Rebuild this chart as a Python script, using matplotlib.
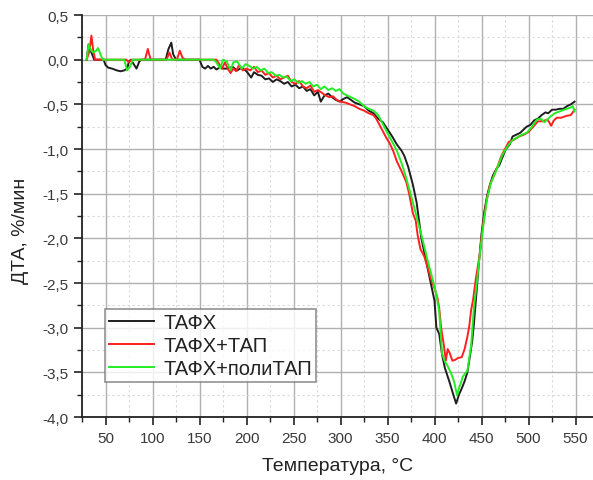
import matplotlib
matplotlib.use("Agg")
import matplotlib.pyplot as plt
from matplotlib.ticker import MultipleLocator, FuncFormatter

plt.rcParams['font.family'] = ['Liberation Sans', 'DejaVu Sans']

# ТАФХ
t_tafh = [30, 32, 35, 38, 48, 50, 53, 57, 62, 66, 70, 73, 75, 77, 80, 83, 86, 88,
          114, 117, 120, 122, 125, 150, 153, 156, 159, 162, 165, 168, 171, 175, 180,
          185, 190, 195, 200, 205, 208, 212, 216, 220, 224, 228, 232, 236, 240, 244,
          248, 252, 256, 260, 264, 268, 272, 276, 279, 283, 287, 291, 295, 299, 303,
          307, 311, 315, 320, 325, 330, 335, 340, 345, 350, 355, 360, 365, 368, 372,
          377, 381, 386, 390, 395, 400, 402, 405, 408, 411, 416, 420, 423, 426, 429,
          432, 435, 438, 440, 442, 444, 447, 450, 453, 456, 459, 462, 466, 469, 472,
          476, 480, 483, 487, 491, 495, 498, 502, 506, 510, 514, 518, 521, 525, 529,
          533, 537, 541, 545, 549]
v_tafh = [0.0, 0.17, 0.08, 0.0, 0.0, -0.06, -0.09, -0.1, -0.12, -0.13, -0.12, -0.1,
          -0.02, 0.0, -0.05, -0.1, -0.02, 0.0, 0.0, 0.12, 0.19, 0.06, 0.0, 0.0, -0.08,
          -0.1, -0.07, -0.1, -0.08, -0.11, -0.09, -0.1, -0.1, -0.08, -0.12, -0.09,
          -0.13, -0.2, -0.14, -0.17, -0.18, -0.22, -0.21, -0.25, -0.22, -0.24, -0.27,
          -0.25, -0.3, -0.28, -0.32, -0.3, -0.35, -0.33, -0.4, -0.36, -0.47, -0.4,
          -0.38, -0.42, -0.45, -0.47, -0.44, -0.42, -0.45, -0.48, -0.5, -0.52, -0.57,
          -0.6, -0.66, -0.7, -0.78, -0.86, -0.95, -1.02, -1.08, -1.2, -1.4, -1.6, -2.0,
          -2.2, -2.45, -2.7, -3.0, -3.07, -3.3, -3.45, -3.61, -3.75, -3.85, -3.75,
          -3.68, -3.6, -3.5, -3.3, -3.16, -2.95, -2.69, -2.3, -1.95, -1.7, -1.52, -1.4,
          -1.3, -1.22, -1.18, -1.1, -1.0, -0.95, -0.86, -0.84, -0.82, -0.78, -0.75,
          -0.73, -0.68, -0.66, -0.62, -0.59, -0.6, -0.56, -0.56, -0.55, -0.55, -0.52,
          -0.5, -0.47]

# ТАФХ+ТАП
t_tap = [30, 33, 35, 37, 39, 72, 75, 78, 92, 95, 98, 115, 118, 121, 126, 129, 132,
         135, 168, 171, 174, 177, 180, 183, 186, 189, 192, 196, 200, 204, 208, 212,
         216, 220, 224, 228, 232, 236, 240, 244, 248, 252, 256, 260, 264, 268, 272,
         276, 280, 284, 288, 292, 296, 300, 305, 310, 315, 320, 325, 330, 335, 338,
         341, 345, 349, 352, 356, 360, 365, 370, 373, 377, 380, 382, 385, 389, 392,
         396, 400, 403, 405, 407, 410, 412, 414, 416, 419, 422, 425, 429, 432, 435,
         437, 439, 441, 444, 448, 451, 455, 459, 463, 467, 471, 475, 479, 484, 490,
         495, 500, 505, 510, 515, 520, 522, 524, 527, 530, 535, 540, 545, 549]
v_tap = [0.0, 0.1, 0.27, 0.1, 0.0, 0.0, -0.03, 0.0, 0.0, 0.12, 0.0, 0.0, 0.08, 0.0,
         0.0, 0.1, 0.02, 0.0, 0.0, -0.05, -0.1, -0.03, -0.1, -0.15, -0.1, -0.13, -0.06,
         -0.12, -0.1, -0.12, -0.08, -0.14, -0.12, -0.17, -0.15, -0.2, -0.18, -0.22,
         -0.2, -0.18, -0.25, -0.27, -0.24, -0.3, -0.32, -0.29, -0.36, -0.34, -0.37,
         -0.4, -0.42, -0.41, -0.45, -0.47, -0.48, -0.5, -0.52, -0.55, -0.57, -0.6,
         -0.62, -0.66, -0.72, -0.8, -0.88, -0.93, -1.02, -1.14, -1.25, -1.37, -1.5,
         -1.72, -1.8, -1.96, -2.12, -2.2, -2.3, -2.45, -2.56, -2.66, -2.78, -3.0, -3.2,
         -3.37, -3.24, -3.28, -3.37, -3.36, -3.34, -3.33, -3.24, -3.1, -2.98, -2.8,
         -2.69, -2.45, -2.19, -1.9, -1.6, -1.4, -1.3, -1.2, -1.08, -1.0, -0.92, -0.9,
         -0.86, -0.84, -0.81, -0.75, -0.69, -0.69, -0.67, -0.7, -0.74, -0.68, -0.65,
         -0.65, -0.63, -0.62, -0.56]

# ТАФХ+полиТАП
t_poly = [30, 32, 35, 37, 40, 42, 45, 47, 70, 73, 76, 79, 165, 168, 172, 175, 179,
          183, 186, 190, 195, 199, 203, 207, 211, 215, 219, 223, 227, 231, 235, 239,
          243, 247, 251, 255, 259, 263, 267, 271, 275, 279, 283, 287, 291, 295, 299,
          303, 307, 311, 315, 320, 325, 330, 335, 340, 345, 350, 355, 360, 366, 370,
          375, 380, 386, 392, 397, 402, 405, 408, 411, 414, 418, 421, 424, 426, 428,
          430, 435, 439, 442, 445, 448, 452, 456, 460, 464, 468, 472, 477, 483, 488,
          493, 498, 503, 509, 513, 517, 521, 524, 528, 533, 538, 544, 547, 549]
v_poly = [0.0, 0.17, 0.1, 0.08, 0.1, 0.13, 0.05, 0.0, 0.0, -0.12, -0.08, 0.0, 0.0,
          -0.03, -0.1, 0.0, -0.02, -0.12, -0.03, -0.02, -0.1, -0.05, -0.07, -0.1,
          -0.08, -0.12, -0.1, -0.15, -0.14, -0.18, -0.17, -0.2, -0.19, -0.24, -0.22,
          -0.26, -0.24, -0.27, -0.25, -0.3, -0.28, -0.33, -0.3, -0.34, -0.32, -0.35,
          -0.33, -0.38, -0.4, -0.42, -0.44, -0.47, -0.52, -0.55, -0.57, -0.62, -0.72,
          -0.82, -0.92, -1.02, -1.19, -1.33, -1.52, -1.72, -1.96, -2.22, -2.42, -2.63,
          -2.82, -3.29, -3.38, -3.43, -3.52, -3.61, -3.76, -3.68, -3.62, -3.55, -3.48,
          -3.2, -2.76, -2.5, -2.2, -1.85, -1.55, -1.38, -1.28, -1.18, -1.07, -0.98,
          -0.9, -0.87, -0.84, -0.82, -0.76, -0.67, -0.66, -0.7, -0.66, -0.63, -0.6,
          -0.58, -0.56, -0.54, -0.52, -0.58]

series = [
    ("ТАФХ", t_tafh, v_tafh, "#1e1e1e"),
    ("ТАФХ+ТАП", t_tap, v_tap, "#ff1f1f"),
    ("ТАФХ+полиТАП", t_poly, v_poly, "#22ee22"),
]

fig = plt.figure(figsize=(5.93, 4.81), dpi=100)
ax = fig.add_axes([82 / 593, 1 - 418 / 481, 1 - 82 / 593, 402 / 481])

for label, t, v, c in series:
    ax.plot(t, v, color=c, lw=1.4, label=label)

ax.set_xlim(25, 568.6)
ax.set_ylim(-4.0, 0.5)

ax.xaxis.set_major_locator(MultipleLocator(50))
ax.xaxis.set_minor_locator(MultipleLocator(25))
ax.yaxis.set_major_locator(MultipleLocator(0.5))
ax.yaxis.set_minor_locator(MultipleLocator(0.25))

ax.xaxis.set_major_formatter(FuncFormatter(lambda x, p: f"{x:.0f}" if x >= 50 else ""))
ax.yaxis.set_major_formatter(FuncFormatter(lambda y, p: f"{y:.1f}".replace(".", ",")))

ax.grid(which="major", color="#b0b0b0", lw=1.0, ls="-")
ax.grid(which="minor", color="#d8d8d8", lw=0.8, ls=(0, (2, 2.5)))
ax.set_axisbelow(True)

for s in ("top", "right"):
    ax.spines[s].set_visible(False)
for s in ("left", "bottom"):
    ax.spines[s].set_color("#222222")
    ax.spines[s].set_linewidth(1.3)

ax.tick_params(which="major", direction="out", length=6, width=1.2,
               color="#222222", labelsize=11, labelcolor="#3a3a3a", pad=4)
ax.tick_params(which="minor", direction="out", length=3.5, width=1.0, color="#222222")

ax.set_xlabel("Температура, °C", fontsize=14, color="#222222", labelpad=9)
ax.set_ylabel("ДТА, %/мин", fontsize=14, color="#222222")
ax.yaxis.set_label_coords(-0.103, 0.465)

leg = ax.legend(loc="lower left", bbox_to_anchor=(0.045, 0.087), borderaxespad=0,
                fontsize=14.5, frameon=True, fancybox=False, handlelength=2.25,
                handletextpad=0.45, borderpad=0.2, labelspacing=0.2)
leg.get_frame().set_edgecolor("#777777")
leg.get_frame().set_linewidth(1.2)
for txt in leg.get_texts():
    txt.set_color("#222222")

fig.savefig("out.png", dpi=100, facecolor="white")
